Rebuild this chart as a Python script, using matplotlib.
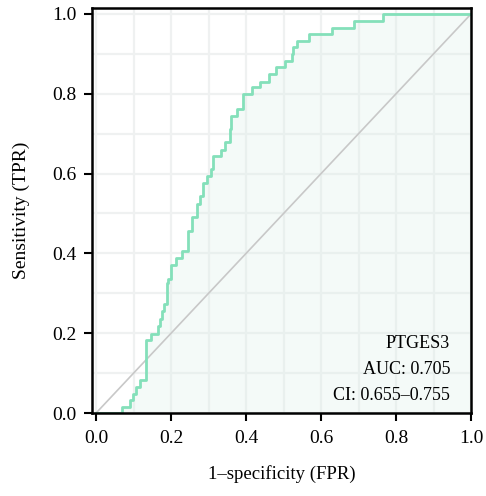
import numpy as np
import matplotlib
matplotlib.use('Agg')
import matplotlib.pyplot as plt

# ROC step points (fpr, tpr)
fpr = [0.0, 0.068, 0.091, 0.098, 0.107, 0.117, 0.132, 0.147, 0.166, 0.171,
       0.175, 0.181, 0.188, 0.193, 0.200, 0.212, 0.228, 0.246, 0.257, 0.270,
       0.276, 0.286, 0.295, 0.306, 0.311, 0.332, 0.344, 0.356, 0.359, 0.375,
       0.393, 0.415, 0.437, 0.460, 0.481, 0.505, 0.522, 0.525, 0.535, 0.569,
       0.629, 0.687, 0.766, 1.0]
tpr = [0.0, 0.015, 0.032, 0.047, 0.066, 0.082, 0.182, 0.199, 0.217, 0.235,
       0.255, 0.272, 0.325, 0.337, 0.370, 0.389, 0.406, 0.457, 0.491, 0.524,
       0.545, 0.576, 0.595, 0.612, 0.643, 0.659, 0.678, 0.712, 0.745, 0.762,
       0.800, 0.816, 0.830, 0.849, 0.866, 0.883, 0.900, 0.917, 0.932, 0.949,
       0.966, 0.983, 1.0, 1.0]

gene = 'PTGES3'
auc_txt = 'AUC: 0.705'
ci_txt = 'CI: 0.655\u20130.755'
tick_labels = ['0.0', '0.2', '0.4', '0.6', '0.8', '1.0']

plt.rcParams['font.family'] = ['Liberation Serif', 'DejaVu Serif']
plt.rcParams['font.size'] = 13

fig = plt.figure(figsize=(4.86, 4.96), dpi=100)
ax = fig.add_axes([92 / 486, 1 - 413 / 496, 379 / 486, 405 / 496])

# grid every 0.1
ticks_minor = np.arange(0, 1.01, 0.1)
ax.set_xticks(ticks_minor, minor=True)
ax.set_yticks(ticks_minor, minor=True)
ax.grid(True, which='both', color='#eff1f1', linewidth=1.6, zorder=0)
ax.tick_params(which='minor', length=0)

ax.fill_between(fpr, tpr, 0, step='post', color='#dcefe8', alpha=0.3,
                linewidth=0, zorder=1.6)
ax.plot([0, 1], [0, 1], color='#c8c8c8', linewidth=1.2, zorder=2)
ax.plot(fpr, tpr, drawstyle='steps-post', color='#84e0ba', linewidth=2.0, zorder=3)

ax.text(0.944, 0.175, gene, ha='right', va='center')
ax.text(0.944, 0.11, auc_txt, ha='right', va='center')
ax.text(0.944, 0.045, ci_txt, ha='right', va='center')

ax.set_xlim(-0.011, 1.0)
ax.set_ylim(0, 1.015)
ax.set_xticks(np.arange(0, 1.01, 0.2))
ax.set_yticks(np.arange(0, 1.01, 0.2))
ax.set_xticklabels(tick_labels, fontsize=14)
ax.set_yticklabels(tick_labels, fontsize=14)
ax.tick_params(which='major', direction='out', length=6, width=1.5, color='black')
ax.tick_params(axis='x', pad=6)
ax.tick_params(axis='y', pad=5)

for s in ax.spines.values():
    s.set_linewidth(1.8)
    s.set_color('black')
    s.set_zorder(4)

ax.set_xlabel('1\u2013specificity (FPR)', fontsize=13.5, labelpad=13)
ax.set_ylabel('Sensitivity (TPR)', fontsize=14, labelpad=16)

fig.savefig('out.png', dpi=100)
